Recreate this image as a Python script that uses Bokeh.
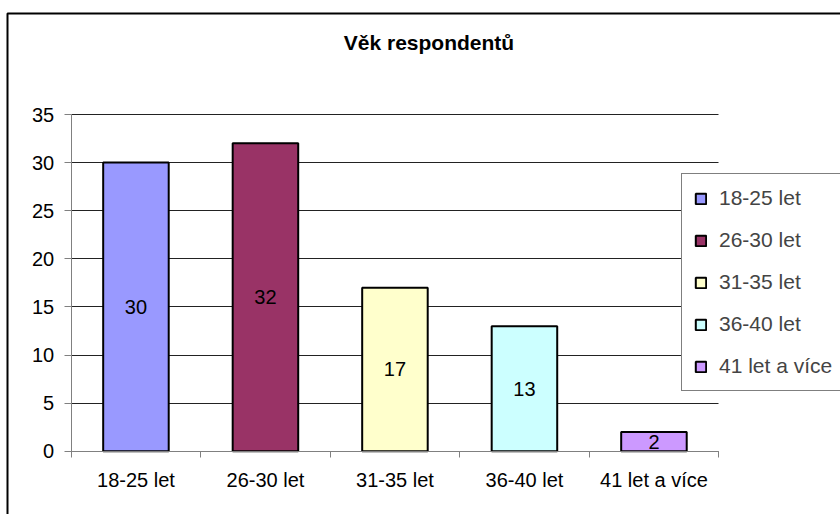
from bokeh.plotting import figure
from bokeh.models import (ColumnDataSource, Range1d, FixedTicker, Legend, LegendItem,
                          BoxAnnotation, Label, Grid, LinearAxis)
from bokeh.core.properties import value
from bokeh.embed import file_html
from bokeh.resources import INLINE

title_text = "Věk respondentů"
categories = ["18-25 let", "26-30 let", "31-35 let", "36-40 let", "41 let a více"]
counts = [30, 32, 17, 13, 2]
bar_colors = ["#9999FF", "#993366", "#FFFFCC", "#CCFFFF", "#CC99FF"]
y_ticks = [0, 5, 10, 15, 20, 25, 30, 35]

FONT = "Liberation Sans"

# layout (pixels)
W, H = 840, 514
AX_X = 70.7      # pixel x of value axis
AX_Y = 450.7     # pixel y of category axis
CAT_PX = 129.5   # pixel width of one category
UNIT_PX = 9.62   # pixels per unit on value axis

def dx(px):
    return (px - AX_X) / CAT_PX

def dy(py):
    return (AX_Y - py) / UNIT_PX

n = len(categories)
xs = [i + 0.5 for i in range(n)]
src = ColumnDataSource(dict(
    x=xs,
    top=counts,
    mid=[c / 2 for c in counts],
    lbl=[str(c) for c in counts],
    color=bar_colors,
    cat=categories,
))

p = figure(width=W, height=H, output_backend="svg", toolbar_location=None,
           x_range=Range1d(dx(0), dx(W)), y_range=Range1d(dy(H), dy(0)),
           min_border=0, x_axis_type=None, y_axis_type=None)
p.outline_line_color = None
p.background_fill_color = "white"
p.border_fill_color = "white"
p.grid.visible = False

xaxis = LinearAxis(fixed_location=0, bounds=(0, n),
                   ticker=FixedTicker(ticks=xs, minor_ticks=list(range(n + 1))))
xaxis.major_label_overrides = {x: c for x, c in zip(xs, categories)}
xaxis.major_tick_line_color = None
xaxis.minor_tick_out = 6
xaxis.minor_tick_in = 0
xaxis.minor_tick_line_color = "#808080"
xaxis.axis_line_color = "#808080"
xaxis.major_label_text_font = FONT
xaxis.major_label_text_font_size = "20px"
xaxis.major_label_text_color = "black"
xaxis.major_label_standoff = 12
p.add_layout(xaxis, "below")

yaxis = LinearAxis(fixed_location=0, bounds=(y_ticks[0], y_ticks[-1]),
                   ticker=FixedTicker(ticks=y_ticks))
yaxis.major_tick_out = 7
yaxis.major_tick_in = 0
yaxis.minor_tick_line_color = None
yaxis.major_tick_line_color = "#808080"
yaxis.axis_line_color = "#808080"
yaxis.major_label_text_font = FONT
yaxis.major_label_text_font_size = "20px"
yaxis.major_label_text_color = "black"
yaxis.major_label_standoff = 10
p.add_layout(yaxis, "left")

grid = Grid(dimension=1, ticker=FixedTicker(ticks=y_ticks),
            grid_line_color="#222222", grid_line_width=1)
if "cross_bounds" in Grid.properties():
    grid.cross_bounds = (0, n)
p.add_layout(grid)

# bars
r = p.vbar(x="x", top="top", bottom=0, width=0.506, source=src,
           fill_color="color", line_color="black", line_width=2)

p.text(x="x", y="mid", text="lbl", source=src, text_align="center",
       text_baseline="middle", text_font=value(FONT), text_font_size="20px",
       text_color="black")

# legend
items = [LegendItem(label=c, renderers=[r], index=i) for i, c in enumerate(categories)]
legend = Legend(items=items, location=(681, 123), orientation="vertical",
                glyph_width=13, glyph_height=13, label_height=24, label_width=200,
                label_standoff=12, spacing=18, padding=12, margin=0,
                label_text_font=FONT, label_text_font_size="21px",
                border_line_color="black", border_line_width=1,
                background_fill_color="white", background_fill_alpha=1)
p.add_layout(legend, "center")

# title
p.add_layout(Label(x=dx(428.5), y=dy(42), text=title_text,
                   text_font=FONT, text_font_size="21px", text_font_style="bold",
                   text_align="center", text_baseline="middle", text_color="black"))

# outer chart border
p.add_layout(BoxAnnotation(left=dx(7), top=dy(13), right=dx(W + 60), bottom=dy(H + 60),
                           fill_alpha=0, line_color="black", line_alpha=1, line_width=2,
                           level="overlay"))

open("out.html", "w").write(file_html(p, INLINE))
